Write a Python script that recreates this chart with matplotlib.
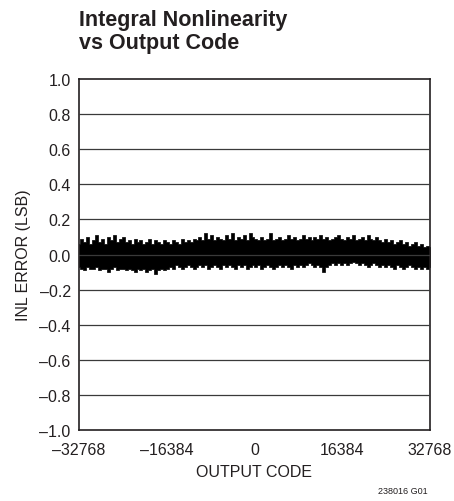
import numpy as np
import matplotlib
matplotlib.use("Agg")
import matplotlib.pyplot as plt

# INL band envelope (LSB), evenly spaced across the code range
upper_env = [0.06, 0.09, 0.07, 0.10, 0.06, 0.08, 0.11, 0.07, 0.09, 0.06, 0.10, 0.08, 0.11, 0.07, 0.09,
             0.10, 0.07, 0.08, 0.06, 0.09, 0.07, 0.08, 0.06, 0.07, 0.09, 0.06, 0.08, 0.07, 0.06, 0.08,
             0.07, 0.06, 0.08, 0.07, 0.06, 0.09, 0.07, 0.08, 0.07, 0.09, 0.08, 0.10, 0.08, 0.12, 0.09,
             0.11, 0.08, 0.10, 0.09, 0.08, 0.11, 0.09, 0.12, 0.08, 0.10, 0.09, 0.11, 0.08, 0.12, 0.10,
             0.09, 0.08, 0.10, 0.08, 0.09, 0.12, 0.08, 0.09, 0.10, 0.08, 0.09, 0.11, 0.09, 0.10, 0.08,
             0.09, 0.11, 0.09, 0.10, 0.08, 0.10, 0.09, 0.11, 0.09, 0.10, 0.08, 0.09, 0.10, 0.11, 0.09,
             0.08, 0.10, 0.09, 0.11, 0.08, 0.09, 0.10, 0.08, 0.11, 0.09, 0.08, 0.10, 0.08, 0.07, 0.09,
             0.07, 0.08, 0.06, 0.07, 0.08, 0.06, 0.07, 0.05, 0.06, 0.07, 0.05, 0.06, 0.04, 0.05, 0.04]
lower_env = [-0.07, -0.08, -0.09, -0.07, -0.08, -0.08, -0.07, -0.09, -0.08, -0.08, -0.10, -0.08, -0.07, -0.09, -0.08,
             -0.08, -0.09, -0.08, -0.09, -0.10, -0.08, -0.09, -0.08, -0.10, -0.09, -0.08, -0.11, -0.09, -0.08, -0.09,
             -0.08, -0.07, -0.08, -0.06, -0.07, -0.08, -0.07, -0.06, -0.07, -0.08, -0.07, -0.06, -0.07, -0.06, -0.08,
             -0.07, -0.06, -0.07, -0.08, -0.06, -0.07, -0.06, -0.07, -0.08, -0.06, -0.07, -0.06, -0.08, -0.07, -0.06,
             -0.07, -0.06, -0.08, -0.07, -0.06, -0.07, -0.08, -0.07, -0.06, -0.07, -0.06, -0.07, -0.08, -0.06, -0.07,
             -0.06, -0.07, -0.06, -0.05, -0.06, -0.07, -0.06, -0.07, -0.10, -0.07, -0.06, -0.05, -0.06, -0.05, -0.06,
             -0.05, -0.06, -0.05, -0.04, -0.05, -0.06, -0.05, -0.06, -0.07, -0.06, -0.05, -0.06, -0.07, -0.06, -0.07,
             -0.06, -0.07, -0.08, -0.06, -0.07, -0.08, -0.07, -0.06, -0.07, -0.08, -0.07, -0.08, -0.07, -0.08, -0.07]
codes = np.linspace(-32768, 32767, len(upper_env))

xticks = [-32768, -16384, 0, 16384, 32768]
xtick_labels = ["–32768", "–16384", "0", "16384", "32768"]
yticks = [-1.0, -0.8, -0.6, -0.4, -0.2, 0.0, 0.2, 0.4, 0.6, 0.8, 1.0]
ytick_labels = [("–%.1f" % abs(v)) if v < 0 else "%.1f" % v for v in yticks]

plt.rcParams['font.family'] = ['Liberation Sans', 'DejaVu Sans']
ink = "#231f20"

fig = plt.figure(figsize=(4.54, 5.02), dpi=100)
ax = fig.add_axes([79 / 454, 1 - 431 / 502, 351 / 454, 351 / 502])

ax.fill_between(codes, lower_env, upper_env, step="mid", color="black", linewidth=0.5,
                edgecolor="black", zorder=2)

for v in yticks[1:-1]:
    ax.axhline(v, color="#3a3a3a", linewidth=0.9, zorder=3)

ax.set_xlim(-32768, 32768)
ax.set_ylim(-1.0, 1.0)
ax.set_xticks(xticks)
ax.set_xticklabels(xtick_labels)
ax.set_yticks(yticks)
ax.set_yticklabels(ytick_labels)
ax.tick_params(length=0, labelsize=11.5, colors=ink)
ax.tick_params(axis="x", pad=9)
ax.tick_params(axis="y", pad=6)
for s in ax.spines.values():
    s.set_linewidth(1.2)
    s.set_color(ink)

ax.set_xlabel("OUTPUT CODE", fontsize=11.5, color=ink, labelpad=5)
ax.set_ylabel("INL ERROR (LSB)", fontsize=11.5, color=ink, labelpad=6)

fig.text(79 / 454, 1 - 10 / 502, "Integral Nonlinearity\nvs Output Code", fontsize=15.5,
         fontweight="bold", va="top", ha="left", color=ink, linespacing=1.15)
fig.text(428 / 454, 1 - 492 / 502, "238016 G01", fontsize=6.5, ha="right", va="center", color=ink)

fig.savefig("out.png", dpi=100)
